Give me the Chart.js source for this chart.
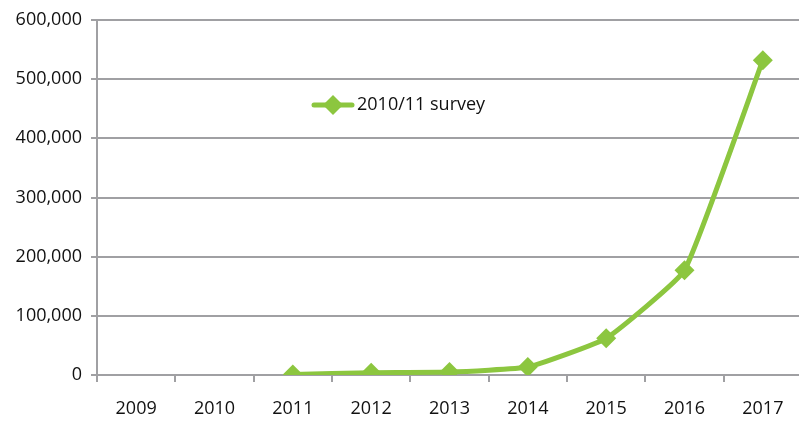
<!DOCTYPE html>
<html>
<head>
<meta charset="utf-8">
<script src="https://cdn.jsdelivr.net/npm/chart.js@4/dist/chart.umd.min.js"></script>
<style>
  html, body { margin: 0; padding: 0; background: #fff; overflow: hidden; }
  #wrap { width: 812px; height: 422px; }
</style>
</head>
<body>
<div id="wrap"><canvas id="myChart"></canvas></div>
<script>
// data
const years = ['2009', '2010', '2011', '2012', '2013', '2014', '2015', '2016', '2017'];
const survey = [null, null, 1000, 4000, 5000, 13500, 62000, 177000, 532000];
const seriesName = '2010/11 survey';
const yTicks = [0, 100000, 200000, 300000, 400000, 500000, 600000];

const green = '#8cc63f';
const gridGray = '#a0a0a3';

// legend drawn inside the plot area
const innerLegend = {
  id: 'innerLegend',
  afterDraw(chart) {
    const ctx = chart.ctx;
    ctx.save();
    ctx.strokeStyle = green;
    ctx.lineWidth = 5;
    ctx.lineCap = 'round';
    ctx.beginPath();
    ctx.moveTo(314, 105);
    ctx.lineTo(352, 105);
    ctx.stroke();
    ctx.fillStyle = green;
    ctx.beginPath();
    ctx.moveTo(333, 95);
    ctx.lineTo(343, 105);
    ctx.lineTo(333, 115);
    ctx.lineTo(323, 105);
    ctx.closePath();
    ctx.fill();
    ctx.fillStyle = '#111';
    ctx.font = '18px "Open Sans"';
    ctx.textBaseline = 'middle';
    ctx.fillText(seriesName, 357, 105);
    ctx.restore();
  }
};

const data = {
  labels: years,
  datasets: [{
    label: seriesName,
    data: survey,
    borderColor: green,
    backgroundColor: green,
    borderWidth: 5,
    tension: 0.12,
    pointStyle: 'rectRot',
    pointRadius: 10,
    pointHoverRadius: 10,
    pointBorderWidth: 0
  }]
};

const config = {
  type: 'line',
  data,
  options: {
    responsive: true,
    maintainAspectRatio: false,
    animation: false,
    layout: { padding: { top: 20, right: 0, left: 0, bottom: 0 } },
    scales: {
      x: {
        offset: true,
        grid: { offset: true, drawOnChartArea: false, color: gridGray, lineWidth: 2, tickLength: 7 },
        border: { color: gridGray, width: 2 },
        ticks: { color: '#111', font: { family: 'Open Sans', size: 18 }, padding: 16, maxRotation: 0 },
        afterFit: s => { s.height = 47; }
      },
      y: {
        min: 0,
        max: 600000,
        afterBuildTicks: s => { s.ticks = yTicks.map(v => ({ value: v })); },
        grid: { color: gridGray, lineWidth: 2, tickLength: 6 },
        border: { color: gridGray, width: 2 },
        ticks: {
          color: '#111',
          font: { family: 'Open Sans', size: 18 },
          padding: 9,
          callback: v => v.toLocaleString('en-US')
        },
        afterFit: s => { s.width = 97; }
      }
    },
    plugins: {
      legend: { display: false },
      tooltip: { enabled: false }
    }
  },
  plugins: [innerLegend]
};

const myChart = new Chart(document.getElementById('myChart'), config);
</script>
</body>
</html>
